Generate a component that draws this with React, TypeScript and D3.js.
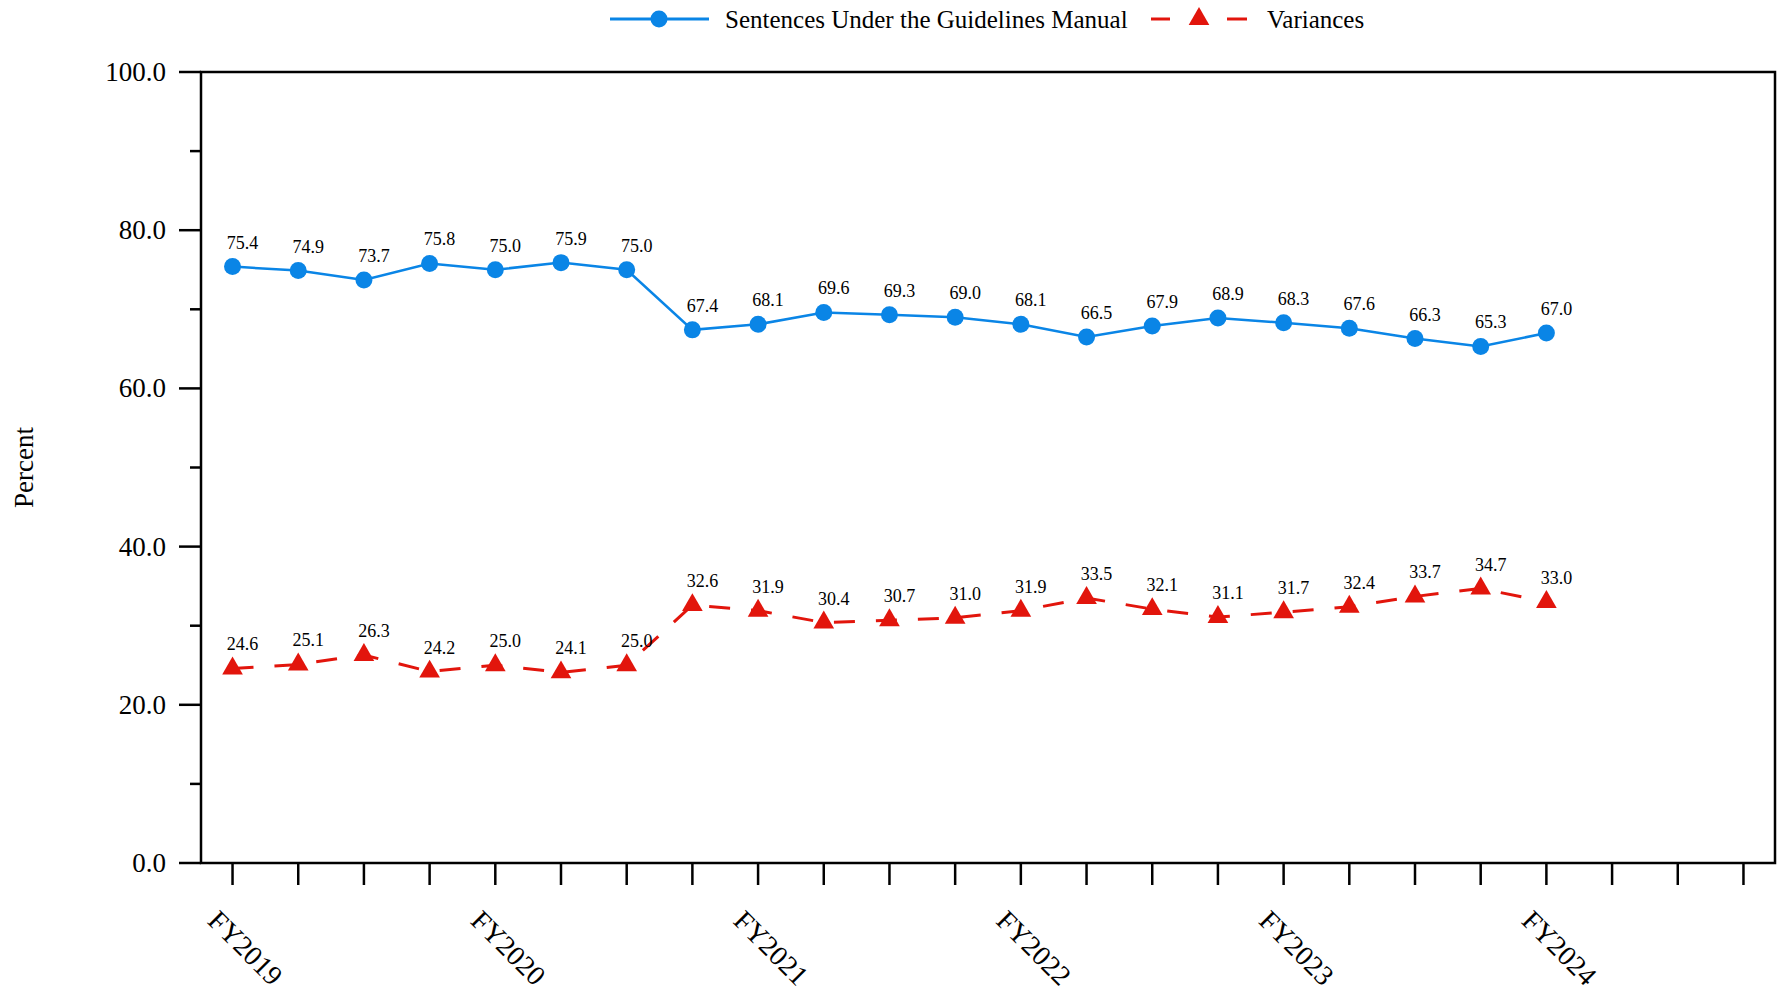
import React from 'react'
import * as d3 from 'd3'

// quarters FY2019 Q1 .. FY2024 Q4 (axis holds 24 slots, data runs through FY2024 Q1)
const quarters = d3.range(24).map((i) => `FY${2019 + Math.floor(i / 4)} Q${(i % 4) + 1}`)
const yearLabels = ['FY2019', 'FY2020', 'FY2021', 'FY2022', 'FY2023', 'FY2024']

const guidelines = [75.4, 74.9, 73.7, 75.8, 75.0, 75.9, 75.0, 67.4, 68.1, 69.6, 69.3, 69.0, 68.1, 66.5, 67.9, 68.9, 68.3, 67.6, 66.3, 65.3, 67.0]
const variances = [24.6, 25.1, 26.3, 24.2, 25.0, 24.1, 25.0, 32.6, 31.9, 30.4, 30.7, 31.0, 31.9, 33.5, 32.1, 31.1, 31.7, 32.4, 33.7, 34.7, 33.0]

const yTicks = [0, 20, 40, 60, 80, 100]
const yMinor = [10, 30, 50, 70, 90]

const BLUE = '#0a85e6'
const RED = '#e2150c'
const FONT = '"Liberation Serif", "Times New Roman", serif'

export default function App() {
  const width = 1777
  const height = 993
  const left = 201
  const right = 1775
  const top = 72
  const bottom = 863

  const x = d3.scalePoint<string>().domain(quarters).range([left, right]).padding(0.48)
  const y = d3.scaleLinear().domain([0, 100]).range([bottom, top])

  const line = d3
    .line<number>()
    .x((_, i) => x(quarters[i]) as number)
    .y((d) => y(d))

  const tri = d3.symbol().type(d3.symbolTriangle).size(185)()

  return (
    <svg width={width} height={height} style={{ position: 'absolute', left: 0, top: 0, background: '#fff' }} fontFamily={FONT}>
      {/* legend */}
      <g>
        <line x1={610} x2={709} y1={19} y2={19} stroke={BLUE} strokeWidth={3} />
        <circle cx={659} cy={19} r={8.5} fill={BLUE} />
        <text x={725} y={28} fontSize={25}>Sentences Under the Guidelines Manual</text>
        <line x1={1151} x2={1170} y1={19} y2={19} stroke={RED} strokeWidth={3} />
        <line x1={1227} x2={1247} y1={19} y2={19} stroke={RED} strokeWidth={3} />
        <path d={tri} transform="translate(1199,19)" fill={RED} />
        <text x={1267} y={28} fontSize={25}>Variances</text>
      </g>

      {/* frame */}
      <rect x={left} y={top} width={right - left} height={bottom - top} fill="none" stroke="#000" strokeWidth={2.5} />

      {/* y axis */}
      {yTicks.map((t) => (
        <g key={t}>
          <line x1={left - 22} x2={left} y1={y(t)} y2={y(t)} stroke="#000" strokeWidth={2.5} />
          <text x={166} y={y(t) + 9} textAnchor="end" fontSize={27}>{t.toFixed(1)}</text>
        </g>
      ))}
      {yMinor.map((t) => (
        <line key={t} x1={left - 11} x2={left} y1={y(t)} y2={y(t)} stroke="#000" strokeWidth={2.5} />
      ))}
      <text transform={`translate(33,${(top + bottom) / 2}) rotate(-90)`} textAnchor="middle" fontSize={27}>Percent</text>

      {/* x axis */}
      {quarters.map((q) => (
        <line key={q} x1={x(q)} x2={x(q)} y1={bottom} y2={bottom + 22} stroke="#000" strokeWidth={2.5} />
      ))}
      {yearLabels.map((lab, i) => (
        <text
          key={lab}
          transform={`translate(${(x(quarters[i * 4]) as number) + 13},948) rotate(45)`}
          textAnchor="middle"
          dominantBaseline="central"
          fontSize={28}
        >
          {lab}
        </text>
      ))}

      {/* series */}
      <path d={line(guidelines) || ''} fill="none" stroke={BLUE} strokeWidth={2.5} />
      <path d={line(variances) || ''} fill="none" stroke={RED} strokeWidth={3} strokeDasharray="21 21" />
      {guidelines.map((v, i) => (
        <g key={`g${i}`}>
          <circle cx={x(quarters[i])} cy={y(v)} r={8.5} fill={BLUE} />
          <text x={(x(quarters[i]) as number) + 10} y={y(v) - 18} textAnchor="middle" fontSize={18}>{v.toFixed(1)}</text>
        </g>
      ))}
      {variances.map((v, i) => (
        <g key={`v${i}`}>
          <path d={tri} transform={`translate(${x(quarters[i])},${y(v)})`} fill={RED} />
          <text x={(x(quarters[i]) as number) + 10} y={y(v) - 18} textAnchor="middle" fontSize={18}>{v.toFixed(1)}</text>
        </g>
      ))}
    </svg>
  )
}
